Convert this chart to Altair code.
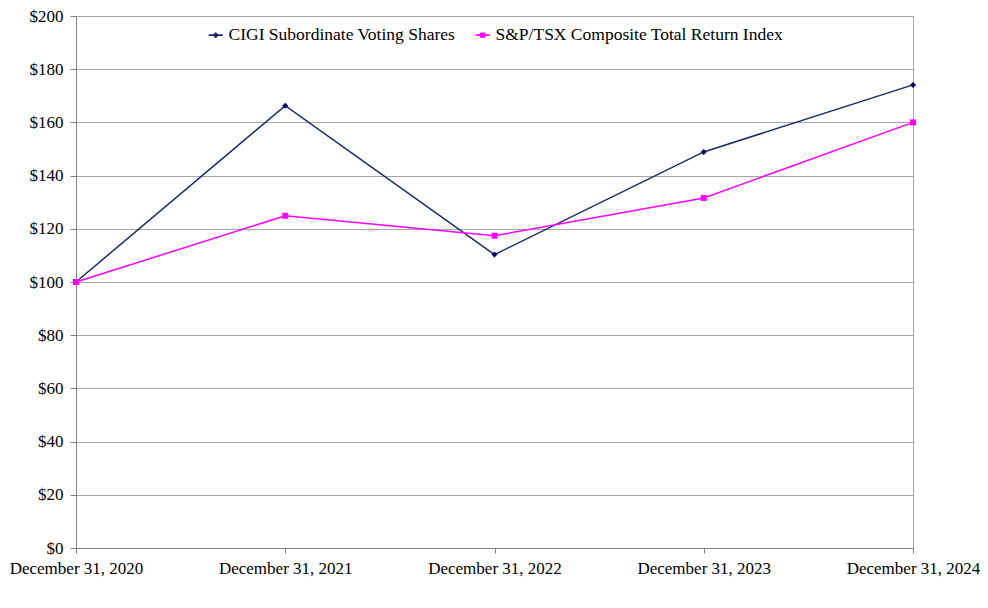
import altair as alt
import pandas as pd

dates = ["December 31, 2020", "December 31, 2021", "December 31, 2022",
         "December 31, 2023", "December 31, 2024"]
cigi = [100.0, 166.3, 110.3, 148.9, 174.1]
tsx = [100.0, 124.9, 117.4, 131.6, 160.0]
series = ["CIGI Subordinate Voting Shares", "S&P/TSX Composite Total Return Index"]
colors = ["#1B2A66", "#FF00FF"]
marker_colors = ["#000066", "#FF00FF"]
y_ticks = [0, 20, 40, 60, 80, 100, 120, 140, 160, 180, 200]

rows = []
for d, a, b in zip(dates, cigi, tsx):
    rows.append({"date": d, "series": series[0], "value": a})
    rows.append({"date": d, "series": series[1], "value": b})
df = pd.DataFrame(rows)

FONT = "Liberation Serif"

x = alt.X("date:N", sort=dates,
          scale=alt.Scale(type="point", padding=0),
          axis=alt.Axis(title=None, labelAngle=0, grid=False, tickSize=5,
                        labelPadding=7, labelFontSize=17))
y = alt.Y("value:Q",
          scale=alt.Scale(domain=[0, 200], nice=False),
          axis=alt.Axis(title=None, values=y_ticks, labelExpr="'$' + datum.value",
                        tickSize=6, labelPadding=7, labelFontSize=17, grid=True))

legend_paths = [
    "M-1,-0.11H1V0.11H-1Z M0,-0.45L0.45,0L0,0.45L-0.45,0Z",
    "M-1,-0.11H1V0.11H-1Z M-0.38,-0.38H0.38V0.38H-0.38Z",
]

leg = alt.Legend(title=None, orient="none", legendX=131, legendY=10,
                 direction="horizontal", columnPadding=16, labelOffset=4,
                 labelFont=FONT, labelFontSize=17.5, labelColor="black",
                 labelLimit=500, symbolSize=200, symbolOpacity=1, padding=0)

base = alt.Chart(df)

layers = []
for s, c, mc, shp in zip(series, colors, marker_colors, ["diamond", "square"]):
    sub = base.transform_filter(alt.datum.series == s)
    layers.append(sub.mark_line(strokeWidth=1.5, color=c).encode(x=x, y=y))
    layers.append(sub.mark_point(shape=shp, filled=True, size=36, opacity=1,
                                 color=mc).encode(x=x, y=y))

legend_layer = base.mark_point(filled=True, size=0, strokeWidth=0, opacity=1).encode(
    x=x, y=y,
    color=alt.Color("series:N", sort=series,
                    scale=alt.Scale(domain=series, range=colors), legend=leg),
    shape=alt.Shape("series:N", sort=series,
                    scale=alt.Scale(domain=series, range=legend_paths), legend=leg),
)
layers.append(legend_layer)

chart = alt.layer(*layers).properties(
    width=837, height=532,
    autosize=alt.AutoSizeParams(type="none"),
    padding={"left": 68, "top": 8, "right": 67, "bottom": 52},
    background="white",
).configure_view(
    stroke="#a6a6a6", strokeWidth=1
).configure_axis(
    labelFont=FONT, labelColor="black", domainColor="#808080",
    tickColor="#808080", gridColor="#a6a6a6", gridWidth=1, domainWidth=1,
)

chart.save("out.html", embed_options={"renderer": "svg", "actions": False})
